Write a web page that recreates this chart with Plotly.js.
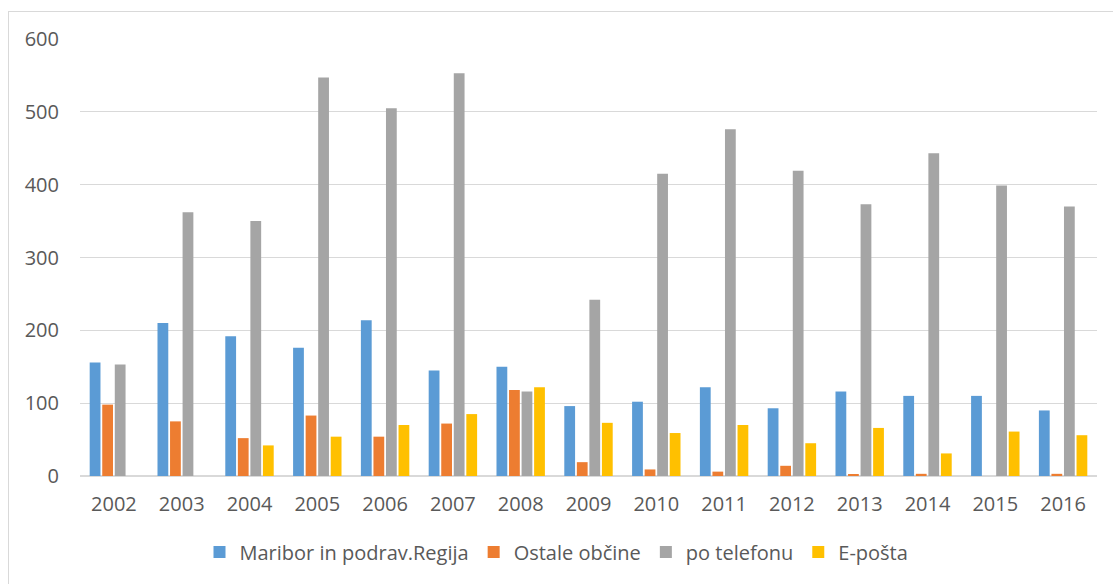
<!DOCTYPE html>
<html>
<head>
<meta charset="utf-8">
<script src="https://cdn.plot.ly/plotly-3.0.1.min.js"></script>
<style>
  html, body { margin: 0; padding: 0; background: #fff; }
  #chart { width: 1113px; height: 584px; }
  #frame { position: absolute; left: 8px; top: 11px; width: 1200px; height: 700px;
           border-left: 1px solid #d9d9d9; border-top: 1px solid #d9d9d9; pointer-events: none; }
</style>
</head>
<body>
<div id="chart"></div>
<div id="frame"></div>
<script>
const years = ['2002','2003','2004','2005','2006','2007','2008','2009','2010','2011','2012','2013','2014','2015','2016'];
const maribor = [156, 210, 192, 176, 214, 145, 150, 96, 102, 122, 93, 116, 110, 110, 90];
const ostale  = [98, 75, 52, 83, 54, 72, 118, 19, 9, 6, 14, 2, 3, 0, 3];
const telefon = [153, 362, 350, 547, 505, 553, 116, 242, 415, 476, 419, 373, 443, 399, 370];
const eposta  = [0, 0, 42, 54, 70, 85, 122, 73, 59, 70, 45, 66, 31, 61, 56];
const seriesNames = ['Maribor in podrav.Regija', 'Ostale občine', 'po telefonu', 'E-pošta'];
const colors = ['#5B9BD5', '#ED7D31', '#A5A5A5', '#FFC000'];
const yTicks = [0, 100, 200, 300, 400, 500, 600];

const data = [maribor, ostale, telefon, eposta].map((vals, i) => ({
  type: 'bar',
  x: years,
  y: vals,
  name: seriesNames[i],
  marker: { color: colors[i], line: { width: 0 } },
  hoverinfo: 'x+y+name'
}));

const layout = {
  width: 1113,
  height: 584,
  margin: { l: 80, r: 16, t: 39, b: 108, pad: 0 },
  paper_bgcolor: '#ffffff',
  plot_bgcolor: '#ffffff',
  barmode: 'group',
  bargap: 0.26,
  bargroupgap: 0.14,
  font: { family: 'Open Sans, sans-serif', size: 20, color: '#595959' },
  xaxis: {
    type: 'category',
    showgrid: false,
    showline: false,
    zeroline: false,
    ticks: '',
    ticklabelstandoff: 14,
    tickfont: { size: 20, color: '#595959' }
  },
  yaxis: {
    range: [0, 600],
    tickvals: yTicks,
    ticktext: yTicks.map(String),
    showgrid: true,
    gridcolor: '#d9d9d9',
    gridwidth: 1,
    zeroline: true,
    zerolinecolor: '#d9d9d9',
    zerolinewidth: 1.5,
    showline: false,
    ticks: '',
    ticklabelstandoff: 20,
    tickfont: { size: 20, color: '#595959' }
  },
  showlegend: true,
  legend: {
    orientation: 'h',
    xref: 'container',
    yref: 'container',
    x: 0.5,
    xanchor: 'center',
    y: 1 - 552 / 584,
    yanchor: 'middle',
    font: { size: 20, color: '#595959' },
    itemwidth: 30,
    traceorder: 'normal'
  }
};

Plotly.newPlot('chart', data, layout, { displayModeBar: false, responsive: false });
</script>
</body>
</html>
